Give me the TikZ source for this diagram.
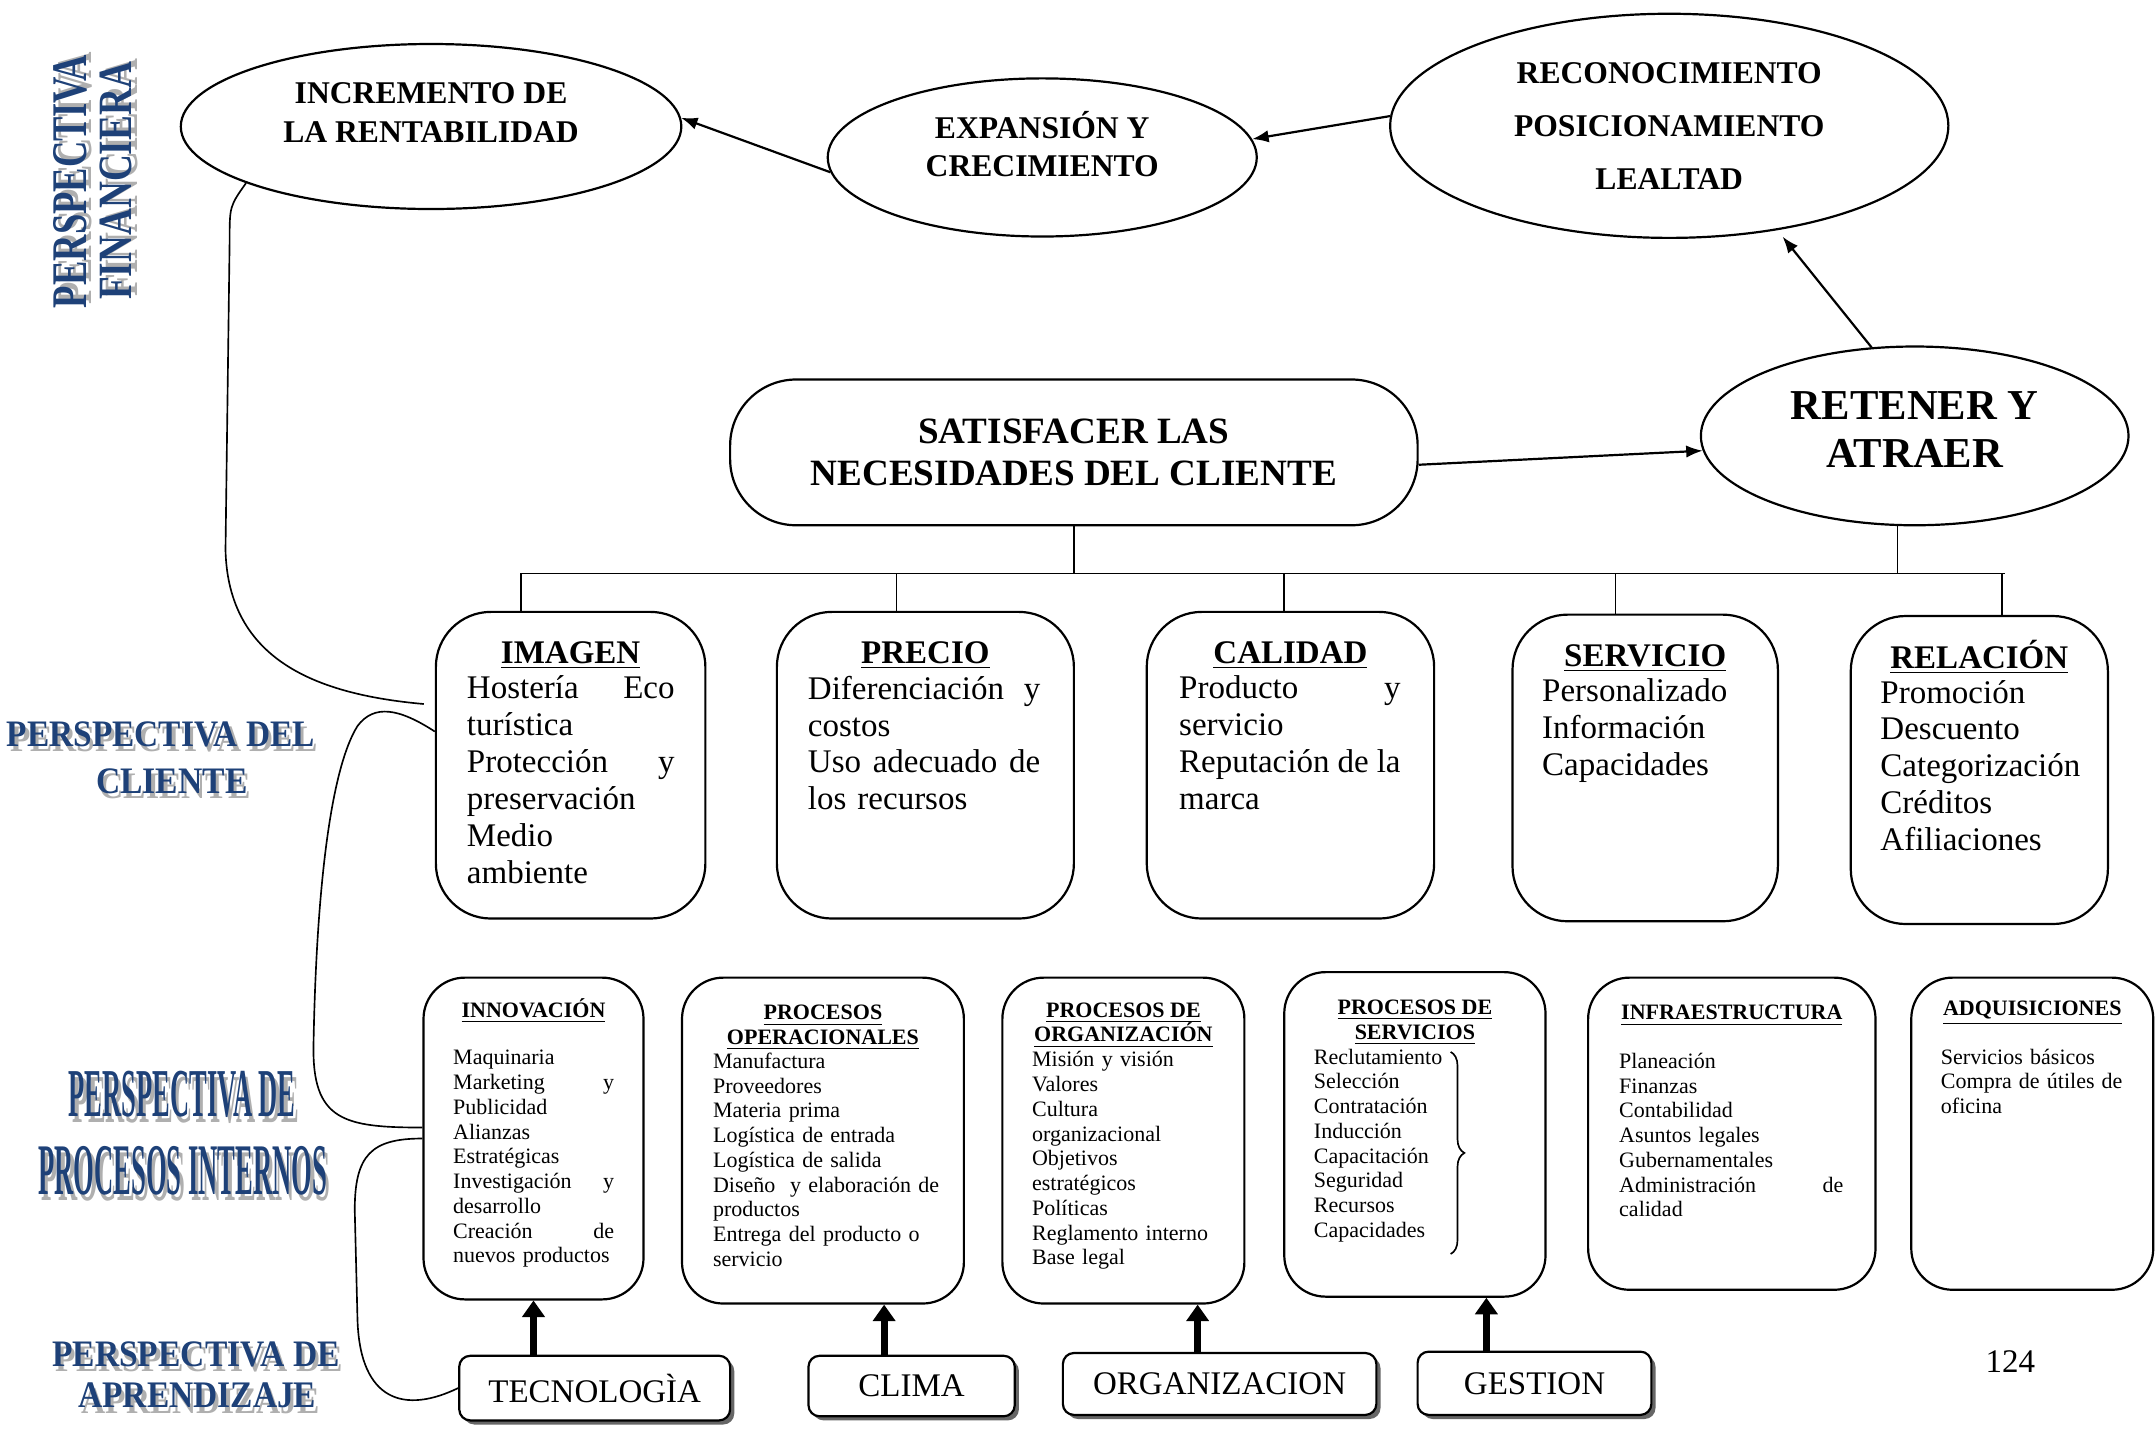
\documentclass[tikz,border=0pt]{standalone}
\usepackage{fontspec}
\setmainfont{Liberation Serif}
\usepackage{graphicx}
\usetikzlibrary{positioning,shapes.geometric,arrows.meta,shadows,decorations.pathreplacing}
\definecolor{perspblue}{RGB}{30,65,120}
\definecolor{perspshade}{RGB}{175,175,175}
\newcommand{\wart}[3]{\resizebox{#1}{#2}{\bfseries #3}}
\newcommand{\persptxt}[3]{\makebox[0pt][l]{\smash{\hspace{1.2pt}\raisebox{-2pt}{\color{perspshade}\wart{#1}{#2}{#3}}}}{\color{perspblue}\wart{#1}{#2}{#3}}}
\newcommand{\jgap}{\nobreak\hfill}
\begin{document}
\begin{tikzpicture}[x=0.5pt,y=-0.5pt,
  ell/.style={draw,ellipse,line width=0.8pt,inner sep=0pt,align=center},
  custbox/.style={draw,rounded corners=20pt,line width=0.8pt,minimum height=111.5pt},
  procbox/.style={draw,rounded corners=15pt,line width=0.8pt},
  learnbox/.style={draw,fill=white,rounded corners=4pt,line width=0.8pt,inner sep=0pt,
    font=\fontsize{12}{14}\selectfont,
    drop shadow={shadow xshift=1.5pt,shadow yshift=-1.5pt,fill=black!60,opacity=1}},
  ctitle/.style={anchor=north,inner sep=0pt,font=\bfseries\fontsize{12}{13.4}\selectfont},
  cbody/.style={anchor=north west,inner sep=0pt,align=left,font=\fontsize{12}{13.4}\selectfont},
  ptitle/.style={anchor=north,inner sep=0pt,align=center,font=\bfseries\fontsize{8}{9}\selectfont},
  pbody/.style={anchor=north west,inner sep=0pt,align=left,font=\fontsize{8}{9}\selectfont},
  arr/.style={-{Latex[length=6pt,width=4.5pt]},line width=0.8pt},
  fatarr/.style={-{Triangle[length=6pt,width=8pt]},line width=2.5pt},
  link/.style={line width=0.6pt},
  persp/.style={inner sep=0pt}]
  \useasboundingbox (0,0) rectangle (1568,1040);

  % perspective labels
  \node[persp,rotate=90] (fin1) at (51,132) {\persptxt{92pt}{12pt}{PERSPECTIVA}};
  \node[persp,rotate=90] (fin2) at (84.5,131.5) {\persptxt{86.5pt}{11.5pt}{FINANCIERA}};
  \node[persp] (cli1) at (117,534) {\persptxt{112pt}{9pt}{PERSPECTIVA DEL}};
  \node[persp] (cli2) at (125,568) {\persptxt{55pt}{9pt}{CLIENTE}};
  \node[persp] (pro1) at (132.5,796) {\persptxt{82.5pt}{16.5pt}{PERSPECTIVA DE}};
  \node[persp] (pro2) at (133,851.5) {\persptxt{105pt}{17.5pt}{PROCESOS INTERNOS}};
  \node[persp] (apr1) at (142.5,985) {\persptxt{104.5pt}{9pt}{PERSPECTIVA DE}};
  \node[persp] (apr2) at (143.5,1015) {\persptxt{86.5pt}{9pt}{APRENDIZAJE}};

  % top ellipses
  \node[ell,minimum width=182pt,minimum height=60pt,font=\bfseries\fontsize{11.5}{14}\selectfont]
    (incr) at (313.5,92) {INCREMENTO DE\\LA RENTABILIDAD\\[-4pt]\mbox{}};
  \node[ell,minimum width=156pt,minimum height=57.5pt,font=\bfseries\fontsize{11.5}{14}\selectfont]
    (expan) at (758,114.5) {EXPANSIÓN Y\\CRECIMIENTO\\[-4pt]\mbox{}};
  \node[ell,minimum width=203pt,minimum height=81.5pt,font=\bfseries\fontsize{11.5}{19.25}\selectfont]
    (recon) at (1214,91.5) {RECONOCIMIENTO\\POSICIONAMIENTO\\LEALTAD};
  \node[draw,rounded corners=24pt,line width=0.8pt,minimum width=250pt,minimum height=53pt,
    align=center,font=\bfseries\fontsize{13.5}{15.5}\selectfont]
    (satisf) at (781,329) {SATISFACER LAS\\NECESIDADES DEL CLIENTE};
  \node[ell,minimum width=155.5pt,minimum height=65pt,font=\bfseries\fontsize{15.5}{17.5}\selectfont]
    (reten) at (1392.5,317) {RETENER Y\\ATRAER\\[-13pt]\mbox{}};

  \draw[arr] (recon.178) -- (expan.5);
  \draw[arr] (expan.184) -- (incr.2);
  \draw[arr] ([yshift=-4.5pt]satisf.east) -- (reten.184);
  \draw[arr,shorten >=3pt] (reten.116) -- (recon.-44.5);

  % customer boxes
  \node[custbox,minimum width=98pt] (imagen) at (415,556.5) {};
  \node[ctitle] (imagenT) at ([yshift=-11pt]imagen.north) {\underline{IMAGEN}};
  \node[cbody,text width=75.5pt] (imagenB) at ([xshift=11.5pt,yshift=-23.5pt]imagen.north west)
    {Hostería\jgap Eco\\turística\\Protección\jgap y\\preservación\\Medio\\ambiente};
  \node[custbox,minimum width=108pt] (precio) at (673,556.5) {};
  \node[ctitle] (precioT) at ([yshift=-11pt]precio.north) {\underline{PRECIO}};
  \node[cbody,text width=84.5pt] (precioB) at ([xshift=11.5pt,yshift=-23.5pt]precio.north west)
    {Diferenciación\jgap y\\costos\\Uso\jgap adecuado\jgap de\\los recursos};
  \node[custbox,minimum width=104.5pt] (calidad) at (938.5,556.5) {};
  \node[ctitle] (calidadT) at ([yshift=-11pt]calidad.north) {\underline{CALIDAD}};
  \node[cbody,text width=80.5pt] (calidadB) at ([xshift=12pt,yshift=-23.5pt]calidad.north west)
    {Producto\jgap y\\servicio\\Reputación\jgap de\jgap la\\marca};
  \node[custbox,minimum width=96.5pt] (servicio) at (1196.5,558.5) {};
  \node[ctitle] (servicioT) at ([yshift=-11pt]servicio.north) {\underline{SERVICIO}};
  \node[cbody,text width=80pt] (servicioB) at ([xshift=11pt,yshift=-23.5pt]servicio.north west)
    {Personalizado\\Información\\Capacidades};
  \node[custbox,minimum width=93.5pt,minimum height=112pt] (relacion) at (1439.5,560) {};
  \node[ctitle] (relacionT) at ([yshift=-9pt]relacion.north) {\underline{RELACIÓN}};
  \node[cbody,text width=80pt] (relacionB) at ([xshift=11pt,yshift=-23.5pt]relacion.north west)
    {Promoción\\Descuento\\Categorización\\Créditos\\Afiliaciones};

  % tree from the middle row
  \coordinate (barL) at (379,417);
  \coordinate (barR) at (1458,417);
  \draw[link] (barL) -- (barR);
  \draw[link] (satisf.south) -- (satisf.south |- barL);
  \draw[link] ([xshift=-6.25pt]reten.south) -- ([xshift=-6.25pt]reten.south |- barL);
  \foreach \b/\dx in {imagen/-18pt,precio/-10.5pt,calidad/-2.25pt,servicio/-10.75pt,relacion/8.25pt}
    \draw[link] ([xshift=\dx]\b.north) -- ([xshift=\dx]\b.north |- barL);

  % internal process boxes
  \node[procbox,minimum width=80pt,minimum height=117pt] (innov) at (388,828) {};
  \node[ptitle] (innovT) at ([yshift=-7.8pt]innov.north) {\underline{INNOVACIÓN}};
  \node[pbody,text width=58.5pt] (innovB) at ([xshift=11pt,yshift=-26.6pt]innov.north west)
    {Maquinaria\\Marketing\jgap y\\Publicidad\\Alianzas\\Estratégicas\\Investigación\jgap y\\desarrollo\\Creación\jgap de\\nuevos productos};
  \node[procbox,minimum width=102.5pt,minimum height=118.5pt] (oper) at (598.5,829.5) {};
  \node[ptitle] (operT) at ([yshift=-10.3pt]oper.north) {\underline{PROCESOS}\\\underline{OPERACIONALES}};
  \node[pbody,text width=90pt] (operB) at ([xshift=11.5pt,yshift=-27.6pt]oper.north west)
    {Manufactura\\Proveedores\\Materia prima\\Logística de entrada\\Logística de salida\\Diseño\ \ y elaboración de\\productos\\Entrega del producto o\\servicio};
  \node[procbox,minimum width=88pt,minimum height=118.5pt] (orgp) at (817,829.5) {};
  \node[ptitle] (orgpT) at ([yshift=-9.3pt]orgp.north) {\underline{PROCESOS DE}\\\underline{ORGANIZACIÓN}};
  \node[pbody,text width=75pt] (orgpB) at ([xshift=11pt,yshift=-27.1pt]orgp.north west)
    {Misión y visión\\Valores\\Cultura\\organizacional\\Objetivos\\estratégicos\\Políticas\\Reglamento interno\\Base legal};
  \node[procbox,minimum width=95pt,minimum height=118pt] (serv) at (1029,825) {};
  \node[ptitle] (servT) at ([yshift=-10.3pt]serv.north) {\underline{PROCESOS DE}\\\underline{SERVICIOS}};
  \node[pbody,text width=60pt] (servB) at ([xshift=11pt,yshift=-28.1pt]serv.north west)
    {Reclutamiento\\Selección\\Contratación\\Inducción\\Capacitación\\Seguridad\\Recursos\\Capacidades};
  \draw[link,decorate,decoration={brace,amplitude=5pt}] (1055,765) -- (1055,912);
  \node[procbox,minimum width=104.5pt,minimum height=113.5pt] (infra) at (1259.5,824.5) {};
  \node[ptitle] (infraT) at ([yshift=-10.3pt]infra.north) {\underline{INFRAESTRUCTURA}};
  \node[pbody,text width=81.5pt] (infraB) at ([xshift=11.5pt,yshift=-27.6pt]infra.north west)
    {Planeación\\Finanzas\\Contabilidad\\Asuntos legales\\Gubernamentales\\Administración\jgap de\\calidad};
  \node[procbox,minimum width=88pt,minimum height=113.5pt] (adq) at (1478,824.5) {};
  \node[ptitle] (adqT) at ([yshift=-8.8pt]adq.north) {\underline{ADQUISICIONES}};
  \node[pbody,text width=66pt] (adqB) at ([xshift=11pt,yshift=-26.1pt]adq.north west)
    {Servicios básicos\\Compra\jgap de\jgap útiles\jgap de\\oficina};

  % learning boxes
  \node[learnbox,minimum width=98.5pt,minimum height=23.5pt] (tecno) at (432.5,1009.5) {TECNOLOGÌA};
  \node[learnbox,minimum width=75pt,minimum height=22pt] (clima) at (663,1008) {CLIMA};
  \node[learnbox,minimum width=114pt,minimum height=22.5pt] (orgz) at (887,1006.5) {ORGANIZACION};
  \node[learnbox,minimum width=85pt,minimum height=23pt] (gestion) at (1116,1006) {GESTION};

  \draw[fatarr] ([xshift=-22.25pt]tecno.north) -- (innov.south);
  \draw[fatarr] ([xshift=-10pt]clima.north) -- ([xshift=-10pt]clima.north |- oper.south);
  \draw[fatarr] ([xshift=-8pt]orgz.north) -- ([xshift=-8pt]orgz.north |- orgp.south);
  \draw[fatarr] ([xshift=-17.5pt]gestion.north) -- ([xshift=-17.5pt]gestion.north |- serv.south);

  % side links between the levels
  \draw[link] (incr.197) .. controls (167,150) .. (167,175) -- (164,400)
    .. controls (166,480) and (230,505) .. ([xshift=-4pt,yshift=22.25pt]imagen.west);
  \draw[link] ([yshift=12.25pt]imagen.west) .. controls (290,515) and (272,512) .. (260,528)
    .. controls (240,560) and (230,650) .. (228,760)
    .. controls (227,815) and (250,820) .. ([yshift=4pt]innov.west);
  \draw[link] (innov.west) .. controls (270,828) and (258,840) .. (258,880) -- (260,960)
    .. controls (262,1020) and (295,1028) .. (tecno.west);

  \node[font=\fontsize{12}{14}\selectfont] (pagenum) at (1462,990) {124};
\end{tikzpicture}
\end{document}
